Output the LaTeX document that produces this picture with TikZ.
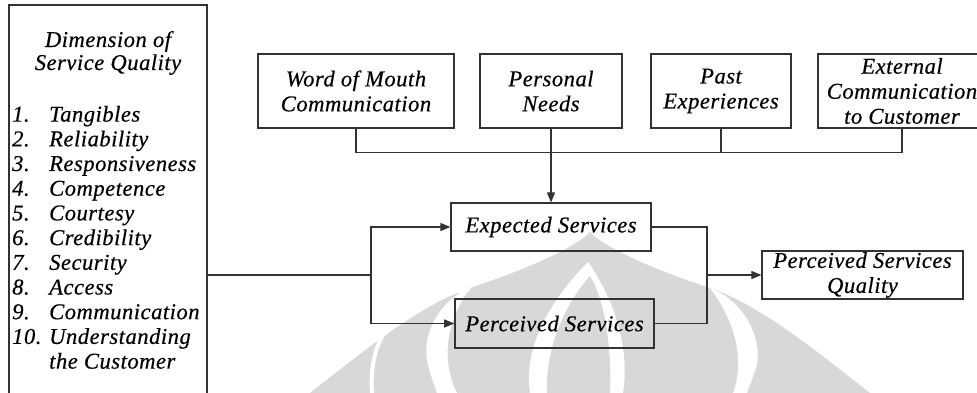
\documentclass[tikz,border=0pt]{standalone}
\usepackage{fontspec}
\setmainfont{Liberation Serif}[LetterSpace=2.2, FakeBold=0.4]
\usetikzlibrary{arrows.meta}
\definecolor{linegray}{RGB}{50,50,50}
\definecolor{wmgray}{RGB}{216,216,216}
\tikzset{
  txt/.style={inner sep=0pt, font=\fontsize{22.6}{25}\selectfont\itshape, text=black},
  box/.style={txt, draw=linegray, line width=1.2pt, align=center},
  conn/.style={draw=linegray, line width=1.2pt},
  arr/.style={conn, -{Triangle[length=10pt,width=8pt]}},
}
\begin{document}
\begin{tikzpicture}[x=1pt, y=-1pt]
\useasboundingbox (0,0) rectangle (977,393);
\fill[white] (0,0) rectangle (977,393);
\begin{scope}
\clip (0,0) rectangle (977,393);

% faint emblem in the background
\fill[wmgray] (310,393) .. controls (365,350) and (420,305) .. (470,288)
  .. controls (525,270) and (575,248) .. (590,232)
  .. controls (605,248) and (655,270) .. (710,288)
  .. controls (760,305) and (815,350) .. (870,393) -- cycle;
\fill[white] (470,288) .. controls (440,300) and (420,335) .. (428,365)
  .. controls (432,380) and (436,390) .. (437,393) -- (457,393)
  .. controls (445,370) and (440,330) .. (470,288) -- cycle;
\fill[white] (710,288) .. controls (742,300) and (762,335) .. (757,365)
  .. controls (752,380) and (748,390) .. (747,393) -- (733,393)
  .. controls (742,370) and (742,330) .. (710,288) -- cycle;
\draw[white, line width=4pt] (470,289) .. controls (400,300) and (368,330) .. (372,393);
\fill[white] (588,262) .. controls (560,290) and (522,340) .. (530,393) -- (623,393)
  .. controls (630,350) and (615,300) .. (588,262) -- cycle;
\fill[wmgray] (590,276) .. controls (568,300) and (545,345) .. (547,393) -- (610,393)
  .. controls (612,350) and (605,300) .. (590,276) -- cycle;

% left panel: the ten dimensions
\node[box, minimum width=198pt, minimum height=420pt] (dimbox) at (108,215) {};
\node[txt, anchor=base] (dimt1) at (108,47) {Dimension of};
\node[txt, anchor=base] (dimt2) at (108,70) {Service Quality};
\foreach \n/\t [count=\i] in {1./Tangibles, 2./Reliability, 3./Responsiveness,
    4./Competence, 5./Courtesy, 6./Credibility, 7./Security, 8./Access,
    9./Communication, 10./Understanding} {
  \node[txt, anchor=base west] (num\i) at (12, {121.6+(\i-1)*24.7}) {\n};
  \node[txt, anchor=base west] (item\i) at (49, {121.6+(\i-1)*24.7}) {\t};
}
\node[txt, anchor=base west] (item11) at (49,368.6) {the Customer};

% top row of influences
\node[box, minimum width=196pt, minimum height=74pt] (wom) at (356,91) {Word of Mouth\\Communication};
\node[box, minimum width=142pt, minimum height=74pt] (pn) at (551,91) {Personal\\Needs};
\node[box, minimum width=140pt, minimum height=74pt] (past) at (721,91) {Past\\Experiences};
\node[box, minimum width=168pt, minimum height=74pt] (ext) at (902,91) {External\\Communication\\to Customer};

% service boxes
\node[box, minimum width=200pt, minimum height=48pt] (exp) at (551,227) {Expected Services};
\node[box, line width=1.6pt, minimum width=199pt, minimum height=49pt] (perc) at (554.5,323.5) {Perceived Services};
\node[box, minimum width=201pt, minimum height=48pt] (psq) at (862.5,275) {Perceived Services\\Quality};

% connectors
\draw[conn] (wom.south) -- ++(0,24) -| (ext.south);
\draw[conn] (past.south) -- ++(0,24);
\draw[arr] (pn.south) -- (exp.north);

\coordinate (split) at (371,275);
\draw[conn] (split -| dimbox.east) -- (split);
\draw[arr] (split) |- (exp.west);
\draw[arr] (split) |- (perc.west);

\coordinate (join) at (707,275);
\draw[conn] (exp.east) -| (join);
\draw[conn] (perc.east) -| (join);
\draw[arr] (join) -- (psq.west);
\end{scope}
\end{tikzpicture}
\end{document}
